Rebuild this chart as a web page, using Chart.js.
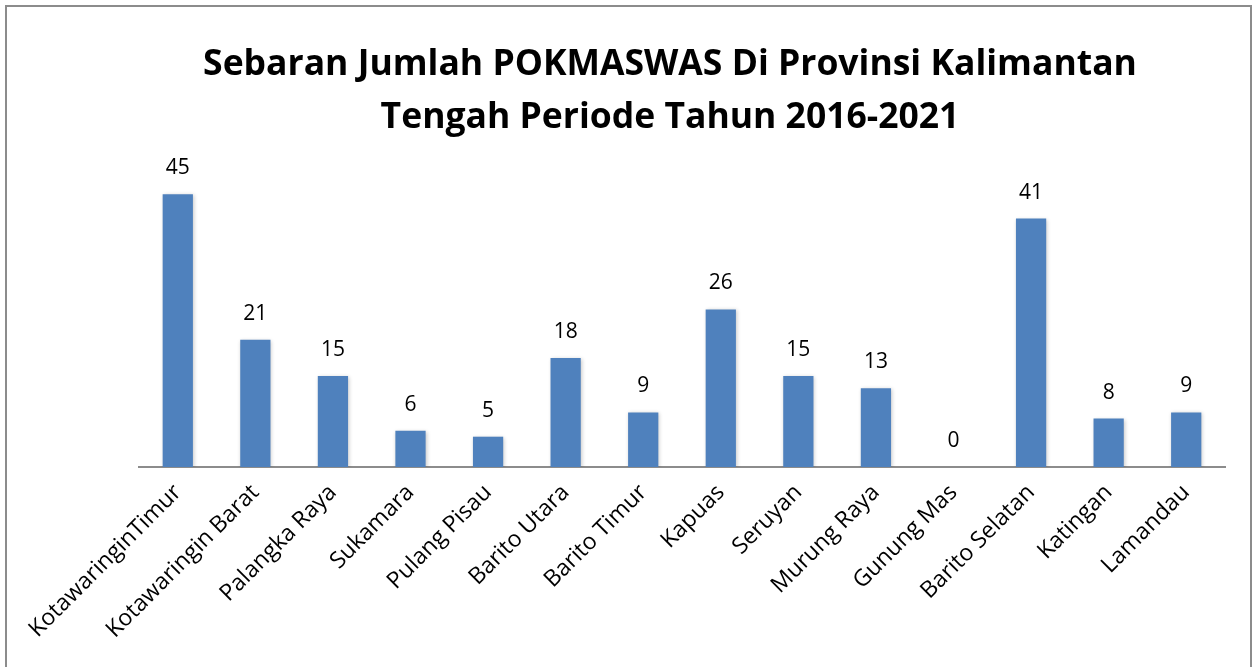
<!DOCTYPE html>
<html>
<head>
<meta charset="utf-8">
<script src="https://cdn.jsdelivr.net/npm/chart.js@4.4.1/dist/chart.umd.min.js"></script>
<style>
  html, body { margin: 0; padding: 0; background: #fff; overflow: hidden; }
  #wrap { position: relative; width: 1259px; height: 667px; }
  #frame { position: absolute; left: 5px; top: 5px; width: 1247px; height: 700px; border: 2px solid #8c8c8c; box-sizing: border-box; }
  #c { position: absolute; left: 0; top: 0; }
</style>
</head>
<body>
<div id="wrap">
  <div id="frame"></div>
  <canvas id="c" width="1259" height="667"></canvas>
</div>
<script>
const titleLines = ['Sebaran Jumlah POKMASWAS Di Provinsi Kalimantan', 'Tengah Periode Tahun 2016-2021'];
const regions = ['KotawaringinTimur', 'Kotawaringin Barat', 'Palangka Raya', 'Sukamara', 'Pulang Pisau',
  'Barito Utara', 'Barito Timur', 'Kapuas', 'Seruyan', 'Murung Raya', 'Gunung Mas', 'Barito Selatan',
  'Katingan', 'Lamandau'];
const counts = [45, 21, 15, 6, 5, 18, 9, 26, 15, 13, 0, 41, 8, 9];

const FONT = '"Open Sans", "DejaVu Sans", sans-serif';

// title drawn by hand so it can sit centred on the whole frame, not the plot
const titlePlugin = {
  id: 'bigTitle',
  afterDraw(chart) {
    const ctx = chart.ctx;
    ctx.save();
    ctx.font = 'bold 35.5px ' + FONT;
    ctx.fillStyle = '#000';
    ctx.textAlign = 'center';
    ctx.textBaseline = 'middle';
    ctx.fillText(titleLines[0], 670, 65);
    ctx.fillText(titleLines[1], 670, 118);
    ctx.restore();
  }
};

// bar shadow like the office default
const shadowPlugin = {
  id: 'barShadow',
  beforeDatasetsDraw(chart) {
    const ctx = chart.ctx;
    ctx.save();
    ctx.shadowColor = 'rgba(0,0,0,0.22)';
    ctx.shadowBlur = 4;
    ctx.shadowOffsetX = 1;
    ctx.shadowOffsetY = 1;
  },
  afterDatasetsDraw(chart) { chart.ctx.restore(); }
};

// value labels above each bar
const valueLabels = {
  id: 'valueLabels',
  afterDatasetsDraw(chart) {
    const ctx = chart.ctx;
    const meta = chart.getDatasetMeta(0);
    ctx.save();
    ctx.font = '21px ' + FONT;
    ctx.fillStyle = '#000';
    ctx.textAlign = 'center';
    ctx.textBaseline = 'alphabetic';
    meta.data.forEach((bar, i) => {
      ctx.fillText(String(counts[i]), bar.x, bar.y - 20);
    });
    ctx.restore();
  }
};

new Chart(document.getElementById('c'), {
  type: 'bar',
  data: {
    labels: regions,
    datasets: [{
      data: counts,
      backgroundColor: '#4f81bd',
      borderWidth: 0,
      barPercentage: 0.78,
      categoryPercentage: 0.5
    }]
  },
  options: {
    responsive: false,
    animation: false,
    layout: { padding: { left: 139, right: 34, top: 164, bottom: 0 } },
    plugins: {
      legend: { display: false },
      tooltip: { enabled: false },
      title: { display: false }
    },
    scales: {
      x: {
        grid: { display: false, drawTicks: false },
        border: { display: true, color: '#8c8c8c', width: 2 },
        ticks: {
          color: '#000',
          font: { family: FONT, size: 23 },
          minRotation: 45, maxRotation: 45,
          padding: 12,
          autoSkip: false
        },
        afterFit(scale) { scale.height = 200; }
      },
      y: {
        display: false,
        min: 0,
        max: 50
      }
    }
  },
  plugins: [shadowPlugin, valueLabels, titlePlugin]
});
</script>
</body>
</html>
